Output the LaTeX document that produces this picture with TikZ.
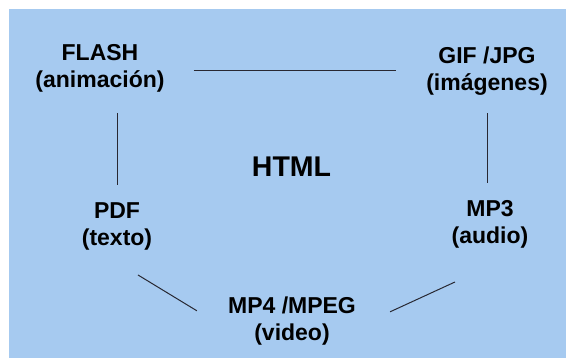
\documentclass[tikz,border=0pt]{standalone}
\usepackage{fontspec}
\setmainfont{Liberation Sans}
\usetikzlibrary{calc}
\definecolor{bgblue}{RGB}{166,202,240}
\definecolor{lineclr}{RGB}{40,40,50}
\begin{document}
\begin{tikzpicture}[x=1bp,y=-1bp,
  lbl/.style={font=\bfseries\fontsize{23bp}{26.5bp}\selectfont, align=center, inner sep=0pt, anchor=base},
  big/.style={font=\bfseries\fontsize{28.5bp}{32bp}\selectfont, inner sep=0pt, anchor=base},
  conn/.style={draw=lineclr, line width=1bp}]
\useasboundingbox (0,0) rectangle (566,358);
\fill[bgblue] (9,9) rectangle (566,358);
\node[lbl] (flash) at (100,87) {FLASH\\(animación)};
\node[lbl] (gif) at (487,90) {GIF /JPG\\(imágenes)};
\node[big] (html) at (291.5,176.5) {HTML};
\node[lbl] (pdf) at (117,245) {PDF\\(texto)};
\node[lbl] (mp3) at (490,243) {MP3\\(audio)};
\node[lbl] (mp4) at (292,340) {MP4 /MPEG\\(video)};
% connectors
\coordinate (h1) at ($(flash.east)+(29,0)$);
\coordinate (h1) at (h1 |- 0,70);
\draw[conn, shorten >=30] (h1) -- (h1 -| gif.west);
\draw[conn, shorten <=21, shorten >=18] (flash.south -| pdf.north) -- (pdf.north);
\draw[conn, shorten <=18, shorten >=17] (gif.south) -- (gif.south |- mp3.north);
\draw[conn] ($(pdf.south)+(21,25)$) -- ($(mp4.west)+(-31,-10)$);
\draw[conn] ($(mp4.east)+(34,-9)$) -- ($(mp3.south)+(-35,34)$);
\end{tikzpicture}
\end{document}
